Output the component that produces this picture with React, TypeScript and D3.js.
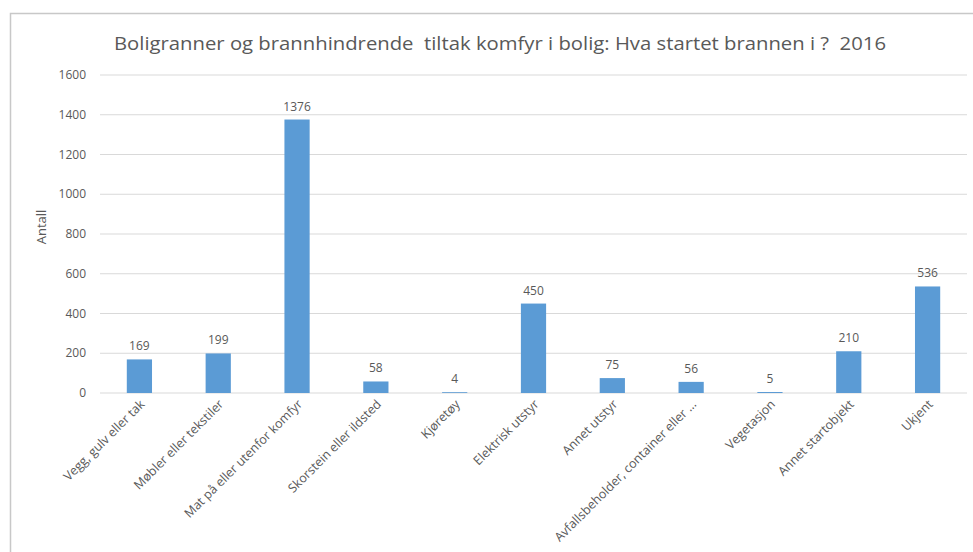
import React from "react";
import * as d3 from "d3";

const categories = [
  "Vegg, gulv eller tak",
  "Møbler eller tekstiler",
  "Mat på eller utenfor komfyr",
  "Skorstein eller ildsted",
  "Kjøretøy",
  "Elektrisk utstyr",
  "Annet utstyr",
  "Avfallsbeholder, container eller ...",
  "Vegetasjon",
  "Annet startobjekt",
  "Ukjent",
];
const values = [169, 199, 1376, 58, 4, 450, 75, 56, 5, 210, 536];
const yTicks = [0, 200, 400, 600, 800, 1000, 1200, 1400, 1600];
const title = "Boligranner og brannhindrende  tiltak komfyr i bolig: Hva startet brannen i ?  2016";
const yLabel = "Antall";

const W = 973;
const H = 552;
const FONT = "'Open Sans', 'Liberation Sans', sans-serif";
const TEXT = "#595959";

export default function App() {
  const x = d3.scaleBand<string>().domain(categories).range([100, 967]).paddingInner(0.68).paddingOuter(0.34);
  const y = d3.scaleLinear().domain([0, 1600]).range([393, 75]);
  return (
    <svg width={W} height={H} style={{ position: "absolute", left: 0, top: 0, background: "#fff" }} fontFamily={FONT}>
      <rect x={10.5} y={13.5} width={1000} height={600} fill="#fff" stroke="#c8c8c8" strokeWidth={1.5} />
      <text x={500} y={50} textAnchor="middle" fontSize={18} fill={TEXT} textLength={772} lengthAdjust="spacingAndGlyphs" style={{ whiteSpace: "pre" }}>{title}</text>
      {yTicks.map((t) => (
        <g key={t}>
          <line x1={100} x2={967} y1={y(t)} y2={y(t)} stroke="#d9d9d9" strokeWidth={1} />
          <text x={86} y={y(t)} dy="0.35em" textAnchor="end" fontSize={12} fill={TEXT}>{t}</text>
        </g>
      ))}
      <text transform={`translate(46,227) rotate(-90)`} textAnchor="middle" fontSize={13} fill={TEXT}>{yLabel}</text>
      {categories.map((c, i) => {
        const bx = x(c)!;
        const cx = bx + x.bandwidth() / 2;
        return (
          <g key={c}>
            <rect x={bx} y={y(values[i])} width={x.bandwidth()} height={y(0) - y(values[i])} fill="#5b9bd5" />
            <text x={cx} y={y(values[i]) - 9} textAnchor="middle" fontSize={12} fill={TEXT}>{values[i]}</text>
            <text transform={`translate(${cx + 6},${405}) rotate(-45)`} textAnchor="end" fontSize={12.5} fill={TEXT}>{c}</text>
          </g>
        );
      })}
    </svg>
  );
}
